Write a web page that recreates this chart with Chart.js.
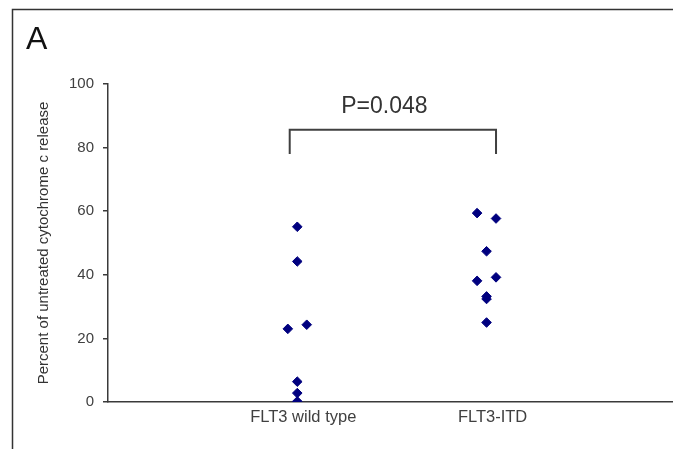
<!DOCTYPE html>
<html>
<head>
<meta charset="utf-8">
<script src="https://cdn.jsdelivr.net/npm/chart.js@4.4.1/dist/chart.umd.min.js"></script>
<style>
  html, body { margin: 0; padding: 0; background: #fff; }
  #wrap { width: 673px; height: 449px; position: relative; }
</style>
</head>
<body>
<div id="wrap"><canvas id="chart"></canvas></div>
<script>
// ── DATA ──────────────────────────────────────────────────────────────────────
const CATEGORIES = ['FLT3 wild type', 'FLT3-ITD']

// x = category position (1 / 2) with small horizontal jitter, y = % release
const WT_X  = [1.0, 1.0, 0.95, 1.05, 1.0, 1.0, 1.0]
const WT_Y  = [55.1, 44.2, 23.0, 24.3, 6.4, 2.8, 0.2]
const ITD_X = [1.95, 2.05, 2.0, 1.95, 2.05, 2.0, 2.0, 2.0]
const ITD_Y = [59.4, 57.7, 47.4, 38.1, 39.2, 33.2, 32.4, 25.0]

// significance bracket between the two groups
const BRACKET_X = [0.96, 0.96, 2.05, 2.05]
const BRACKET_Y = [78, 85.6, 85.6, 78]
const P_LABEL   = 'P=0.048'
const P_POS     = { x: 1.46, y: 91 }

const Y_TITLE = 'Percent of untreated cytochrome c release'

// ── PLUGINS ───────────────────────────────────────────────────────────────────

// outer panel frame + panel letter
const framePlugin = {
  id: 'frame',
  afterDraw(chart) {
    const ctx = chart.ctx
    ctx.save()
    ctx.strokeStyle = '#333'
    ctx.lineWidth = 1.5
    ctx.beginPath()
    ctx.moveTo(12.5, 460)
    ctx.lineTo(12.5, 9.5)
    ctx.lineTo(680, 9.5)
    ctx.stroke()
    ctx.fillStyle = '#111'
    ctx.font = '32px "Liberation Sans", Arial, sans-serif'
    ctx.textBaseline = 'alphabetic'
    ctx.fillText('A', 26, 49)
    ctx.restore()
  }
}

// p-value text above the bracket
const pLabelPlugin = {
  id: 'plabel',
  afterDatasetsDraw(chart) {
    const { ctx, scales: { x, y } } = chart
    ctx.save()
    ctx.fillStyle = '#333'
    ctx.font = '23px "Liberation Sans", Arial, sans-serif'
    ctx.textAlign = 'center'
    ctx.textBaseline = 'alphabetic'
    ctx.fillText(P_LABEL, x.getPixelForValue(P_POS.x), y.getPixelForValue(P_POS.y))
    ctx.restore()
  }
}

// ── CHART ─────────────────────────────────────────────────────────────────────

const toPts = (xs, ys) => xs.map((v, i) => ({ x: v, y: ys[i] }))
const NAVY = '#00007f'
const FONT = '"Liberation Sans", Arial, sans-serif'

new Chart(document.getElementById('chart'), {
  type: 'scatter',
  plugins: [framePlugin, pLabelPlugin],
  data: {
    datasets: [
      { data: toPts(WT_X, WT_Y),   pointStyle: 'rectRot', pointRadius: 4.8, backgroundColor: NAVY, borderColor: NAVY, borderWidth: 1 },
      { data: toPts(ITD_X, ITD_Y), pointStyle: 'rectRot', pointRadius: 4.8, backgroundColor: NAVY, borderColor: NAVY, borderWidth: 1 },
      { data: toPts(BRACKET_X, BRACKET_Y), showLine: true, pointRadius: 0, borderColor: '#404040', borderWidth: 2, fill: false }
    ]
  },
  options: {
    responsive: true, maintainAspectRatio: false,
    animation: false,
    layout: { autoPadding: false, padding: { top: 84, right: 0, left: 0, bottom: 0 } },
    plugins: { legend: { display: false }, tooltip: { enabled: false } },
    scales: {
      x: {
        type: 'linear', min: 0, max: 2.985,
        afterBuildTicks: s => { s.ticks = [{ value: 1 }, { value: 2 }] },
        afterFit: s => { s.height = 47; s.paddingRight = 0; s.paddingLeft = 0 },
        grid: { display: false },
        border: { display: true, color: '#3a3a3a', width: 1.5 },
        ticks: {
          color: '#404040', padding: -2, labelOffset: 6,
          font: { family: FONT, size: 16.5 },
          callback: v => CATEGORIES[v - 1] || ''
        }
      },
      y: {
        min: 0, max: 100,
        afterFit: s => { s.width = 108 },
        grid: { drawOnChartArea: false, drawTicks: true, tickLength: 5, color: '#3a3a3a', lineWidth: 1.5 },
        border: { display: true, color: '#3a3a3a', width: 1.5 },
        ticks: {
          stepSize: 20, color: '#404040', padding: 9,
          font: { family: FONT, size: 15 }
        },
        title: {
          display: true, text: Y_TITLE, color: '#333',
          padding: { top: 35, bottom: 0 },
          font: { family: FONT, size: 15 }
        }
      }
    }
  }
})
</script>
</body>
</html>
